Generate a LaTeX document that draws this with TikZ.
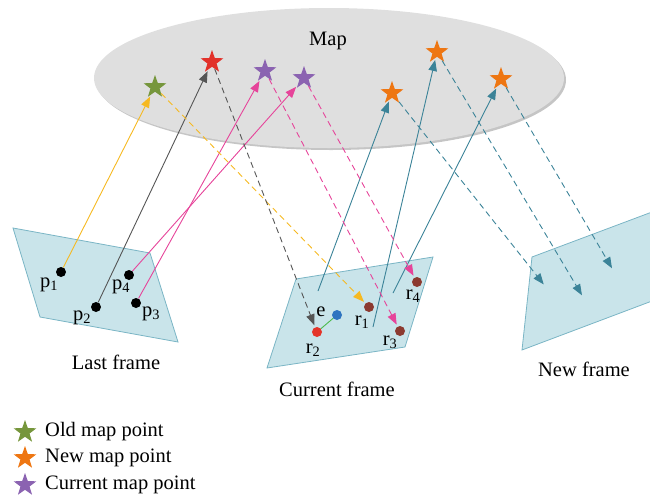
\documentclass[tikz,border=0pt]{standalone}
\usepackage{fontspec}
\setmainfont{Liberation Serif}
\usetikzlibrary{shapes.geometric,arrows.meta,shadows}

\definecolor{mapgray}{HTML}{DFDFDF}
\definecolor{framefill}{HTML}{C9E4EA}
\definecolor{frameedge}{HTML}{7AB5C5}
\definecolor{lineyellow}{HTML}{F6B921}
\definecolor{linegray}{HTML}{555555}
\definecolor{linepink}{HTML}{E6449A}
\definecolor{lineteal}{HTML}{3B8398}
\definecolor{stargreen}{HTML}{76963C}
\definecolor{starred}{HTML}{E2312A}
\definecolor{starpurple}{HTML}{8B63B1}
\definecolor{starorange}{HTML}{EE7612}
\definecolor{dotbrown}{HTML}{8C3A30}
\definecolor{dotred}{HTML}{E43429}
\definecolor{dotblue}{HTML}{2E74C0}
\definecolor{linkgreen}{HTML}{4CBB4C}

\begin{document}
\begin{tikzpicture}[x=1pt,y=-1pt,
  mapstar/.style={star,star points=5,star point ratio=2.5,minimum size=24pt,inner sep=0pt,fill=#1},
  kp/.style={circle,minimum size=10pt,inner sep=0pt,fill=#1},
  lab/.style={font=\fontsize{20.5}{24}\selectfont,inner sep=0pt},
  ray/.style={draw=#1,line width=0.9pt,-{Triangle[length=11pt,width=8.5pt]},shorten >=2pt},
  proj/.style={ray=#1,dash pattern=on 6pt off 4pt},
  viewplane/.style={fill=framefill,draw=frameedge,line width=0.8pt}
]
\useasboundingbox (0,0) rectangle (650,498);

% the map
\node[ellipse,minimum width=470pt,minimum height=140pt,fill=mapgray,
      drop shadow={shadow xshift=2pt,shadow yshift=-2pt,fill=black!45,opacity=0.5}] (map) at (329,78) {};
\node[lab] (maplabel) at (328,41) {Map};

% image planes
\draw[viewplane] (13,228) -- (150,253) -- (178,342) -- (40,317) -- cycle;
\draw[viewplane] (296,279) -- (433,257) -- (405,347) -- (267,368) -- cycle;
\begin{scope}
  \clip (0,0) rectangle (650,498);
  \draw[viewplane] (532,257) -- (660,209) -- (660,298) -- (522,350) -- cycle;
\end{scope}

% frame captions
\node[lab] (lastcap) at (116,362) {Last frame};
\node[lab] (curcap) at (337,389) {Current frame};
\node[lab] (newcap) at (584,369) {New frame};

% map points
\node[mapstar=stargreen] (sg) at (155,87) {};
\node[mapstar=starred] (sr) at (212,62) {};
\node[mapstar=starpurple] (sp1) at (265,71) {};
\node[mapstar=starpurple] (sp2) at (304,78) {};
\node[mapstar=starorange] (so1) at (392,93) {};
\node[mapstar=starorange] (so2) at (437,52) {};
\node[mapstar=starorange] (so3) at (501,79) {};

% keypoints of the last frame
\node[kp=black] (p1) at (61,272) {};
\node[kp=black] (p2) at (96,307) {};
\node[kp=black] (p3) at (136,303) {};
\node[kp=black] (p4) at (129,275) {};
\node[lab] (p1l) at (49,285) {p\textsubscript{1}};
\node[lab] (p2l) at (82,318) {p\textsubscript{2}};
\node[lab] (p3l) at (151,314) {p\textsubscript{3}};
\node[lab] (p4l) at (121,287) {p\textsubscript{4}};

% keypoints of the current frame
\node[kp=dotbrown] (r1) at (369,307) {};
\node[kp=dotred] (r2) at (317,332) {};
\node[kp=dotbrown] (r3) at (400,331) {};
\node[kp=dotbrown] (r4) at (417,282) {};
\node[kp=dotblue] (e) at (337,315) {};
\node[lab] (r1l) at (362,322) {r\textsubscript{1}};
\node[lab] (r2l) at (313,350) {r\textsubscript{2}};
\node[lab] (r3l) at (390,342) {r\textsubscript{3}};
\node[lab] (r4l) at (413,296) {r\textsubscript{4}};
\node[lab] (el) at (321,312) {e};
\draw[linkgreen,line width=0.9pt] (r2) -- (e);

% ends of rays in the current and new frames
\coordinate (c1) at (318,291);
\coordinate (c2) at (373,327);
\coordinate (c3) at (393,293);
\coordinate (n1) at (545,286);
\coordinate (n2) at (583,297);
\coordinate (n3) at (613,270);

% back-projections to the map
\draw[ray=lineyellow] (p1) -- (sg);
\draw[ray=linegray] (p2) -- (sr);
\draw[ray=linepink] (p4) -- (sp2);
\draw[ray=linepink] (p3) -- (sp1);
\draw[ray=lineteal] (c1) -- (so1);
\draw[ray=lineteal] (c2) -- (so2);
\draw[ray=lineteal] (c3) -- (so3);

% projections into the frames
\draw[proj=lineyellow] (sg) -- (r1);
\draw[proj=linegray] (sr) -- (r2);
\draw[proj=linepink] (sp1) -- (r3);
\draw[proj=linepink] (sp2) -- (r4);
\draw[proj=lineteal] (so1) -- (n1);
\draw[proj=lineteal] (so2) -- (n2);
\draw[proj=lineteal] (so3) -- (n3);

% legend
\node[mapstar=stargreen] (lg1) at (25,432) {};
\node[mapstar=starorange] (lg2) at (25,458) {};
\node[mapstar=starpurple] (lg3) at (25,485) {};
\node[lab,anchor=west] (lt1) at (45,432) {Old map point};
\node[lab,anchor=west] (lt2) at (45,458) {New map point};
\node[lab,anchor=west] (lt3) at (45,485) {Current map point};
\end{tikzpicture}
\end{document}
